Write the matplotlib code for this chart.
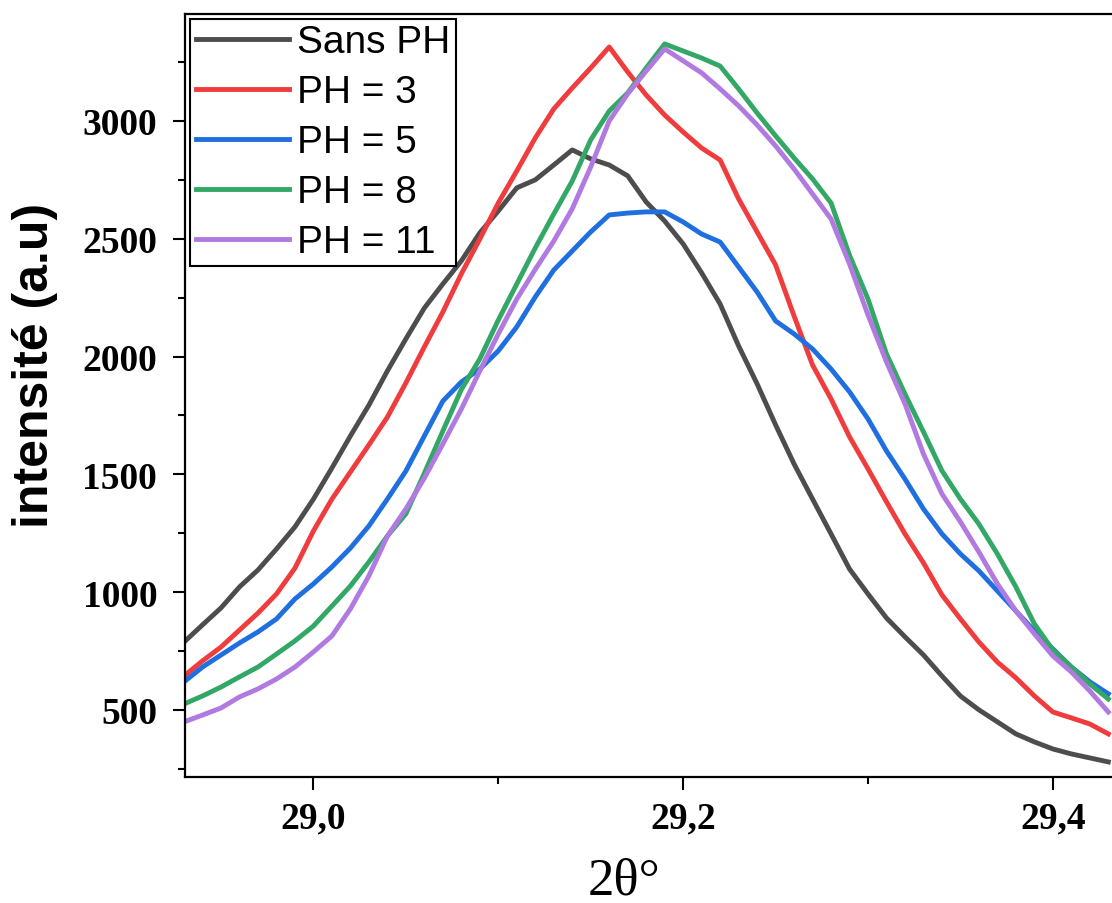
import numpy as np
import matplotlib
matplotlib.use("Agg")
from matplotlib import pyplot as plt
from matplotlib.ticker import MultipleLocator, FuncFormatter

# 2theta sampling (step 0.01 deg)
two_theta = np.round(np.arange(28.93, 29.4301, 0.01), 2)

sans_ph = [788, 861, 933, 1022, 1094, 1183, 1277, 1395, 1527, 1663,
           1794, 1939, 2075, 2206, 2308, 2406, 2525, 2618, 2716, 2750,
           2813, 2877, 2839, 2813, 2767, 2656, 2575, 2478, 2355, 2223,
           2045, 1884, 1710, 1544, 1395, 1247, 1098, 992, 890, 810,
           733, 644, 559, 500, 449, 398, 364, 334, 313, 296, 279]
ph3 = [644, 708, 767, 839, 911, 992, 1102, 1260, 1395, 1510,
       1625, 1743, 1888, 2041, 2189, 2351, 2499, 2652, 2788, 2928,
       3051, 3140, 3225, 3314, 3208, 3110, 3025, 2953, 2885, 2834,
       2669, 2529, 2389, 2172, 1964, 1820, 1659, 1523, 1383, 1247,
       1124, 988, 886, 788, 703, 636, 559, 491, 466, 440, 398]
ph5 = [619, 682, 733, 784, 831, 886, 971, 1035, 1107, 1187,
       1281, 1395, 1514, 1663, 1811, 1892, 1947, 2024, 2126, 2253,
       2367, 2448, 2529, 2601, 2609, 2614, 2614, 2571, 2520, 2486,
       2380, 2274, 2151, 2096, 2032, 1947, 1850, 1735, 1599, 1480,
       1353, 1247, 1162, 1090, 1005, 920, 835, 759, 682, 619, 568]
ph8 = [525, 559, 597, 640, 682, 737, 793, 856, 941, 1026,
       1128, 1238, 1332, 1505, 1684, 1860, 1990, 2155, 2308, 2461,
       2605, 2745, 2920, 3042, 3119, 3225, 3327, 3297, 3267, 3233,
       3136, 3034, 2937, 2843, 2754, 2652, 2430, 2244, 2011, 1841,
       1680, 1515, 1395, 1289, 1162, 1022, 865, 754, 682, 610, 546]
ph11 = [449, 478, 508, 555, 589, 631, 682, 746, 814, 929,
        1069, 1238, 1353, 1484, 1629, 1777, 1939, 2096, 2244, 2370,
        2490, 2627, 2805, 3000, 3115, 3212, 3306, 3255, 3204, 3136,
        3064, 2983, 2894, 2796, 2690, 2584, 2393, 2176, 1977, 1799,
        1586, 1417, 1298, 1170, 1035, 920, 823, 729, 661, 580, 491]

labels = ["Sans PH", "PH = 3", "PH = 5", "PH = 8", "PH = 11"]
colors = ["#4d4d4d", "#f03c3c", "#1f6fe0", "#33a866", "#b07ae0"]

fig = plt.figure(figsize=(11.12, 9.04), dpi=100)
ax = fig.add_axes([185 / 1112, 126 / 904, 1 - 185 / 1112, 763 / 904])

for y, lab, c in zip([sans_ph, ph3, ph5, ph8, ph11], labels, colors):
    ax.plot(two_theta, y, color=c, lw=3.5, label=lab)

ax.set_xlim(28.9305, 29.432)
ax.set_ylim(215, 3454)

ax.xaxis.set_major_locator(MultipleLocator(0.2))
ax.xaxis.set_minor_locator(MultipleLocator(0.1))
ax.yaxis.set_major_locator(MultipleLocator(500))
ax.yaxis.set_minor_locator(MultipleLocator(250))
ax.xaxis.set_major_formatter(FuncFormatter(lambda v, p: f"{v:.1f}".replace(".", ",")))

for s in ["left", "bottom", "top"]:
    ax.spines[s].set_linewidth(1.6)
    ax.spines[s].set_color("black")
ax.spines["right"].set_visible(False)

ax.tick_params(which="both", direction="out", top=False, right=False, width=1.5)
ax.tick_params(which="major", length=9)
ax.tick_params(which="minor", length=5)
ax.tick_params(axis="y", which="major", pad=11)
ax.tick_params(axis="x", which="major", pad=8)
for t in ax.get_xticklabels() + ax.get_yticklabels():
    t.set_fontfamily("Liberation Serif")
    t.set_fontweight("bold")
    t.set_fontsize(27)

leg = ax.legend(loc="upper left", prop={"family": "Liberation Sans", "size": 28},
                frameon=True, fancybox=False, framealpha=1, edgecolor="black",
                handlelength=2.4, handletextpad=0.2, labelspacing=0.36,
                borderpad=0.15, borderaxespad=0.12)
leg.get_frame().set_linewidth(1.5)

fig.text(35 / 1112, 1 - 365 / 904, "intensité (a.u)", rotation=90,
         ha="center", va="center", family="Liberation Sans", weight="bold", size=36)
fig.text(624 / 1112, 1 - 858 / 904, "2θ°", ha="center", va="top",
         family="Liberation Serif", size=38)

fig.savefig("out.png", dpi=100)
